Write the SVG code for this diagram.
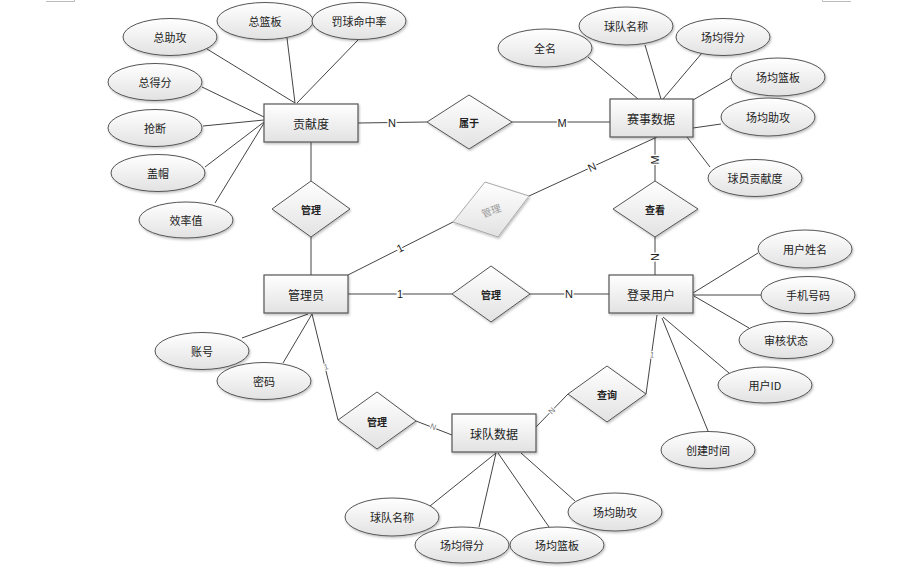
<svg xmlns="http://www.w3.org/2000/svg" width="913" height="583" viewBox="0 0 913 583">
<defs>
<linearGradient id="g" x1="0" y1="0" x2="0" y2="1">
<stop offset="0" stop-color="#ffffff"/>
<stop offset="1" stop-color="#e2e2e2"/>
</linearGradient>
<filter id="sh" x="-10%" y="-10%" width="130%" height="140%">
<feDropShadow dx="1" dy="1.5" stdDeviation="1" flood-color="#000" flood-opacity="0.25"/>
</filter>
</defs>
<style>
.ent rect{fill:url(#g);stroke:#555;stroke-width:1.2;filter:url(#sh)}
.att ellipse{fill:url(#g);stroke:#555;stroke-width:1;filter:url(#sh)}
.rel polygon{fill:url(#g);stroke:#555;stroke-width:1;filter:url(#sh)}
.rel.gray polygon{stroke:#aaa}
text{font-family:"Noto Sans CJK SC","Liberation Sans",sans-serif;text-anchor:middle;dominant-baseline:central;fill:#222}
.ent text{font-size:12px}
.att text{font-size:11px}
.rel text{font-size:10px;font-weight:bold}
.rel.gray text{fill:#999;font-weight:normal}
.conn line,.conn polyline{stroke:#444;stroke-width:1;fill:none}
.lbl{font-family:"Liberation Sans",sans-serif;font-size:11px;paint-order:stroke;stroke:#fff;stroke-width:3px}
.slbl{font-family:"Liberation Sans",sans-serif;font-size:8px;fill:#777;paint-order:stroke;stroke:#fff;stroke-width:2px}
.mark{stroke:#bbb;stroke-width:1;fill:none}
</style>
<path class="mark" d="M46 1.5H74.5V0"/>
<path class="mark" d="M851 1.5H822.5V0"/>
<g class="conn">
<line x1="207" y1="49" x2="295" y2="103"/>
<line x1="287" y1="38" x2="295" y2="103"/>
<line x1="358" y1="40" x2="297" y2="103"/>
<line x1="202" y1="87" x2="264" y2="117"/>
<line x1="203" y1="126" x2="264" y2="120"/>
<line x1="205" y1="167" x2="264" y2="122"/>
<line x1="215" y1="203" x2="264" y2="123"/>
<line x1="358" y1="123" x2="427" y2="122"/>
<line x1="512" y1="122" x2="610" y2="122"/>
<line x1="311" y1="142" x2="311" y2="181"/>
<line x1="311" y1="237" x2="311" y2="275"/>
<line x1="588" y1="57" x2="638" y2="99"/>
<line x1="645" y1="45" x2="661" y2="99"/>
<line x1="702" y1="53" x2="663" y2="99"/>
<line x1="731" y1="78" x2="693" y2="100"/>
<line x1="721" y1="124" x2="693" y2="128"/>
<line x1="710" y1="167" x2="687" y2="137"/>
<line x1="655" y1="137" x2="655" y2="181"/>
<line x1="655" y1="237" x2="655" y2="275"/>
<line x1="348" y1="275" x2="453" y2="222"/>
<line x1="529" y1="196" x2="657" y2="137"/>
<line x1="348" y1="294" x2="452" y2="294"/>
<line x1="530" y1="294" x2="609" y2="294"/>
<line x1="758" y1="253" x2="693" y2="293"/>
<line x1="761" y1="295" x2="693" y2="295"/>
<line x1="749" y1="328" x2="694" y2="296"/>
<line x1="729" y1="373" x2="663" y2="317"/>
<line x1="708" y1="431" x2="662" y2="318"/>
<line x1="657" y1="315" x2="646" y2="394"/>
<line x1="568" y1="394" x2="536" y2="427"/>
<line x1="242" y1="338" x2="308" y2="314"/>
<line x1="283" y1="363" x2="312" y2="314"/>
<line x1="312" y1="314" x2="338" y2="420"/>
<line x1="416" y1="421" x2="452" y2="435"/>
<line x1="430" y1="506" x2="496" y2="453"/>
<line x1="479" y1="527" x2="496" y2="453"/>
<line x1="549" y1="527" x2="498" y2="453"/>
<line x1="575" y1="501" x2="521" y2="453"/>
<text class="lbl" x="392" y="123">N</text>
<text class="lbl" x="562" y="123">M</text>
<text class="lbl" transform="translate(655,160) rotate(-90)">M</text>
<text class="lbl" transform="translate(655,257) rotate(-90)">N</text>
<text class="lbl" transform="translate(400,248) rotate(-27)">1</text>
<text class="lbl" transform="translate(592,167) rotate(-25)">N</text>
<text class="lbl" x="400" y="294">1</text>
<text class="lbl" x="569" y="294">N</text>
<text class="slbl" transform="translate(326,367) rotate(-14)">1</text>
<text class="slbl" transform="translate(433,427) rotate(21)">N</text>
<text class="slbl" transform="translate(652,355) rotate(8)">1</text>
<text class="slbl" transform="translate(552,411) rotate(-46)">N</text>
</g>
<g id="e-gxd" class="ent"><rect x="264" y="104" width="94" height="38"/><text x="311" y="123">贡献度</text></g>
<g id="e-ssjs" class="ent"><rect x="610" y="99" width="83" height="38"/><text x="651" y="118">赛事数据</text></g>
<g id="e-gly" class="ent"><rect x="264" y="275" width="84" height="38"/><text x="306" y="294">管理员</text></g>
<g id="e-dlyh" class="ent"><rect x="609" y="275" width="84" height="38"/><text x="651" y="294">登录用户</text></g>
<g id="e-dsj" class="ent"><rect x="452" y="414" width="84" height="38"/><text x="494" y="433">球队数据</text></g>
<g id="r-sy" class="rel"><polygon points="427,122 469,95 512,122 469,149"/><text x="469" y="122">属于</text></g>
<g id="r-gl1" class="rel"><polygon points="272,209 311,181 350,209 311,237"/><text x="311" y="209">管理</text></g>
<g id="r-gl2" class="rel gray"><polygon points="453,222 485,182 529,196 498,237"/><text transform="translate(491,210) rotate(-20)">管理</text></g>
<g id="r-ck" class="rel"><polygon points="613,209 655,181 698,209 655,237"/><text x="655" y="209">查看</text></g>
<g id="r-gl3" class="rel"><polygon points="452,294 491,266 530,294 491,322"/><text x="491" y="294">管理</text></g>
<g id="r-gl4" class="rel"><polygon points="338,420 377,392 416,421 377,449"/><text x="377" y="421">管理</text></g>
<g id="r-cx" class="rel"><polygon points="568,394 607,366 646,394 607,422"/><text x="607" y="394">查询</text></g>
<g id="a-zzg" class="att"><ellipse cx="170" cy="37" rx="47" ry="18.5"/><text x="170" y="37">总助攻</text></g>
<g id="a-zlb" class="att"><ellipse cx="265" cy="21" rx="48" ry="18.5"/><text x="265" y="21">总篮板</text></g>
<g id="a-fq" class="att"><ellipse cx="359" cy="21" rx="47" ry="18.5"/><text x="359" y="21">罚球命中率</text></g>
<g id="a-zdf" class="att"><ellipse cx="155" cy="82" rx="47" ry="18.5"/><text x="155" y="82">总得分</text></g>
<g id="a-qd" class="att"><ellipse cx="155" cy="128" rx="47" ry="18.5"/><text x="155" y="128">抢断</text></g>
<g id="a-gm" class="att"><ellipse cx="158" cy="173" rx="47" ry="18.5"/><text x="158" y="173">盖帽</text></g>
<g id="a-xlz" class="att"><ellipse cx="186" cy="220" rx="47" ry="18"/><text x="186" y="220">效率值</text></g>
<g id="a-qm" class="att"><ellipse cx="545" cy="48" rx="47" ry="19"/><text x="545" y="48">全名</text></g>
<g id="a-qdmc1" class="att"><ellipse cx="626" cy="26" rx="47" ry="19"/><text x="626" y="26">球队名称</text></g>
<g id="a-cjdf1" class="att"><ellipse cx="723" cy="37" rx="47" ry="18.5"/><text x="723" y="37">场均得分</text></g>
<g id="a-cjlb1" class="att"><ellipse cx="778" cy="77" rx="47" ry="19"/><text x="778" y="77">场均篮板</text></g>
<g id="a-cjzg1" class="att"><ellipse cx="768" cy="117" rx="47" ry="19"/><text x="768" y="117">场均助攻</text></g>
<g id="a-qygxd" class="att"><ellipse cx="755" cy="178" rx="47" ry="18.5"/><text x="755" y="178">球员贡献度</text></g>
<g id="a-yhxm" class="att"><ellipse cx="805" cy="249" rx="47" ry="19"/><text x="805" y="249">用户姓名</text></g>
<g id="a-sjhm" class="att"><ellipse cx="808" cy="295" rx="47" ry="18.5"/><text x="808" y="295">手机号码</text></g>
<g id="a-shzt" class="att"><ellipse cx="786" cy="340" rx="47" ry="18.5"/><text x="786" y="340">审核状态</text></g>
<g id="a-yhid" class="att"><ellipse cx="765" cy="385" rx="47" ry="18"/><text x="765" y="385">用户ID</text></g>
<g id="a-cjsj" class="att"><ellipse cx="708" cy="450" rx="47" ry="18.5"/><text x="708" y="450">创建时间</text></g>
<g id="a-zh" class="att"><ellipse cx="202" cy="351" rx="47" ry="18.5"/><text x="202" y="351">账号</text></g>
<g id="a-mm" class="att"><ellipse cx="264" cy="381" rx="47" ry="18.5"/><text x="264" y="381">密码</text></g>
<g id="a-qdmc2" class="att"><ellipse cx="392" cy="517" rx="47" ry="19"/><text x="392" y="517">球队名称</text></g>
<g id="a-cjdf2" class="att"><ellipse cx="462" cy="545" rx="47" ry="18"/><text x="462" y="545">场均得分</text></g>
<g id="a-cjlb2" class="att"><ellipse cx="557" cy="545" rx="47" ry="18"/><text x="557" y="545">场均篮板</text></g>
<g id="a-cjzg2" class="att"><ellipse cx="615" cy="512" rx="47" ry="19"/><text x="615" y="512">场均助攻</text></g>
</svg>
